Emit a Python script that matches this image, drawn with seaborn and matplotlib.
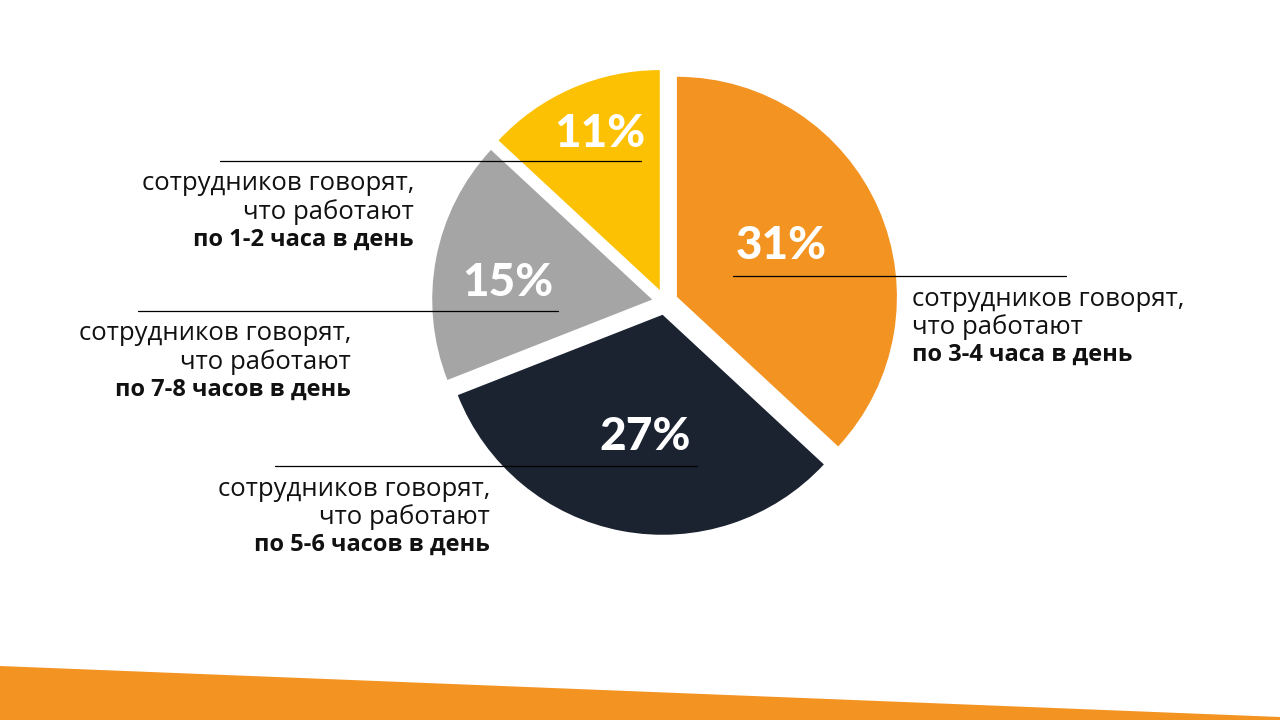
import numpy as np
import matplotlib.pyplot as plt
import seaborn as sns

# slices, clockwise from 12 o'clock
shares = [31, 27, 15, 11]
pct_labels = ["31%", "27%", "15%", "11%"]
colors = ["#F39422", "#1B2331", "#A5A5A5", "#FDC103"]
caption_top = ["сотрудников говорят,"] * 4
caption_mid = ["что работают"] * 4
caption_bold = ["по 3-4 часа в день", "по 5-6 часов в день",
                "по 7-8 часов в день", "по 1-2 часа в день"]

# layout (pixel coords, y down)
CENTER = (665, 302)
RADIUS = 220
EXPLODE = 13  # pixels, matplotlib uses data units here
label_frac = [0.53, 0.56, 0.66, 0.76]
label_turn = [-2.5, -2.7, -4.2, 2.5]  # degrees off the wedge bisector
# leader line: x0, x1, y ; caption anchor x, alignment
leaders = [(733, 1066, 276, 912, "left"),
           (275, 697, 466, 490, "right"),
           (138, 558, 311, 351, "right"),
           (220, 641, 161, 414, "right")]

sns.set_theme(style="white")
plt.rcParams["font.family"] = ["Open Sans", "DejaVu Sans"]

fig = plt.figure(figsize=(12.8, 7.2), dpi=100)
ax = fig.add_axes([0, 0, 1, 1])
ax.invert_yaxis()

# orange stripe at the bottom
ax.fill([0, 1280, 1280, 0], [666, 717, 720, 720], color="#F39422", lw=0, zorder=1)

wedges, _ = ax.pie(shares, colors=colors, startangle=270, counterclock=True,
                   explode=[EXPLODE] * 4, radius=RADIUS, center=CENTER, frame=True,
                   wedgeprops=dict(linewidth=0))

for w, txt, frac, turn in zip(wedges, pct_labels, label_frac, label_turn):
    mid = np.deg2rad((w.theta1 + w.theta2) / 2 + turn)
    cx, cy = w.center
    ax.text(cx + RADIUS * frac * np.cos(mid), cy + RADIUS * frac * np.sin(mid), txt,
            color="white", fontsize=33, fontweight="black", family=["Lato", "DejaVu Sans"],
            ha="center", va="center", zorder=5)

for (x0, x1, y, tx, ha), t1, t2, t3 in zip(leaders, caption_top, caption_mid, caption_bold):
    ax.plot([x0, x1], [y, y], color="black", lw=0.9, zorder=6)
    ax.text(tx, y + 23, t1, fontsize=18.5, color="#111111", ha=ha, va="center")
    ax.text(tx, y + 51, t2, fontsize=18.5, color="#111111", ha=ha, va="center")
    ax.text(tx, y + 79, t3, fontsize=17, color="#111111", ha=ha, va="center",
            fontweight="bold")

ax.set_xlim(0, 1280)
ax.set_ylim(720, 0)
ax.axis("off")

fig.savefig("out.png", dpi=100)
